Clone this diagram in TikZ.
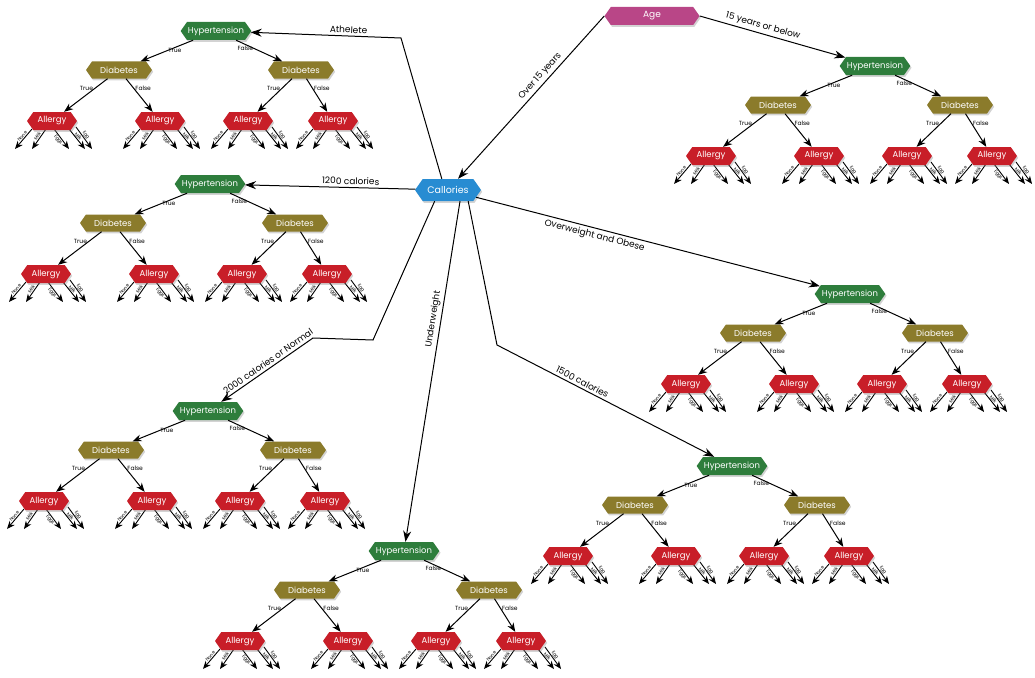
\documentclass[tikz,border=0pt]{standalone}
\usepackage{fontspec}
\setmainfont{Poppins}
\usepackage{xcolor}
\usetikzlibrary{shapes.symbols, shadows, arrows.meta, backgrounds}

\definecolor{hypgreen}{HTML}{2E7D3C}
\definecolor{diaolive}{HTML}{8B7B2B}
\definecolor{algred}{HTML}{C81E28}
\definecolor{agepink}{HTML}{B94687}
\definecolor{calblue}{HTML}{288CD2}

% five allergy outcomes below one Allergy node
\newcommand{\leaves}[1]{%
  \begin{scope}[on background layer]
    \foreach \sx/\sy/\ex/\lab/\where in {-20/8/-37/None/above, -6/8/-20/Milk/above,
        2/8/17/Eggs/below, 17/8/33/Milk/above, 24/6/40/Egg/above}
      \draw[leaf] ([shift={(\sx,\sy)}]#1.center) -- ([shift={(\ex,28)}]#1.center)
        node[leaflab, pos=.45, sloped, \where] {\lab};
  \end{scope}}

% Hypertension / Diabetes / Allergy subtree
\newcommand{\dtree}[3]{%
  \node[hyp] (#1) at (#2,#3) {Hypertension};
  \node[dia] (#1l) at ([shift={(-97,39)}]#1.center) {Diabetes};
  \node[dia] (#1r) at ([shift={(85,39)}]#1.center) {Diabetes};
  \node[alg] (#1ll) at ([shift={(-67,51)}]#1l.center) {Allergy};
  \node[alg] (#1lr) at ([shift={(41,51)}]#1l.center) {Allergy};
  \node[alg] (#1rl) at ([shift={(-53,51)}]#1r.center) {Allergy};
  \node[alg] (#1rr) at ([shift={(32,51)}]#1r.center) {Allergy};
  \draw[branch] (#1) -- (#1l) node[tf, pos=.5, anchor=west] {True};
  \draw[branch] (#1) -- (#1r) node[tf, pos=.4, anchor=east] {False};
  \foreach \side in {l,r} {
    \draw[branch] (#1\side) -- (#1\side l) node[tf, pos=.3, anchor=east] {True};
    \draw[branch] (#1\side) -- (#1\side r) node[tf, pos=.3, anchor=west] {False};
  }
  \foreach \a in {ll,lr,rl,rr} {\leaves{#1\a}}
}

\begin{document}
\begin{tikzpicture}[x=1pt, y=-1pt,
    box/.style={signal, signal to=west and east, signal pointer angle=110,
      text=white, inner xsep=1pt, inner ysep=1pt,
      font=\fontsize{8.5}{9}\selectfont,
      drop shadow={shadow xshift=1.2pt, shadow yshift=-1.8pt, opacity=.35}},
    hyp/.style={box, fill=hypgreen, minimum width=64pt, minimum height=18pt},
    dia/.style={box, fill=diaolive, minimum width=66pt, minimum height=17pt},
    alg/.style={box, fill=algred, minimum width=50pt, minimum height=18pt},
    agebox/.style={box, fill=agepink, minimum width=95pt, minimum height=18pt,
      font=\fontsize{9}{10}\selectfont},
    calbox/.style={box, fill=calblue, minimum width=66pt, minimum height=22pt,
      font=\fontsize{9.5}{10}\selectfont},
    conn/.style={draw, line width=1pt, -{Stealth[length=11pt, width=8pt]}},
    branch/.style={draw, line width=1pt, -{Stealth[length=9pt, width=7pt]}},
    leaf/.style={draw, line width=.9pt, -{Stealth[length=8pt, width=6.5pt]}},
    elab/.style={font=\fontsize{9}{10}\selectfont, sloped, inner sep=2.5pt},
    tf/.style={font=\fontsize{6}{7}\selectfont, inner sep=1pt},
    leaflab/.style={font=\fontsize{4.5}{5}\selectfont, inner sep=.6pt}]
    \useasboundingbox (0,0) rectangle (1035,677);

    % Root nodes
    \node[agebox] (age) at (652,16) {Age};
    \node[calbox] (cal) at (448,190) {Callories};

    % Subtrees
    \dtree{ath}{216}{31}
    \dtree{young}{875}{66}
    \dtree{low}{210}{184}
    \dtree{obese}{850}{294}
    \dtree{normal}{208}{411}
    \dtree{under}{404}{551}
    \dtree{mid}{732}{466}

    % Bends of the long connectors
    \coordinate (athbend) at (401,38);
    \coordinate (normbendA) at (373,340);
    \coordinate (normbendB) at (313,338);
    \coordinate (midbend) at (497,345);

    % Age branches
    \draw[conn] (age.west) -- (cal) node[elab, pos=.4, above] {Over 15 years};
    \draw[conn] (age.east) -- (young) node[elab, pos=.42, above] {15 years or below};

    % Calories branches
    \draw[conn] (cal.119) -- (athbend) -- (ath) node[elab, pos=.35, above] {Athelete};
    \draw[conn] (cal) -- (low) node[elab, pos=.38, above] {1200 calories};
    \draw[conn] (cal) -- (obese) node[elab, pos=.35, below] {Overweight and Obese};
    \draw[conn] (cal.220) -- (normbendA) -- (normbendB) -- (normal)
        node[elab, pos=.45, above] {2000 calories or Normal};
    \draw[conn] (cal.317) -- (under) node[elab, pos=.35, above] {Underweight};
    \draw[conn] (cal.331) -- (midbend) -- (mid) node[elab, pos=.38, above] {1500 calories};
\end{tikzpicture}
\end{document}
